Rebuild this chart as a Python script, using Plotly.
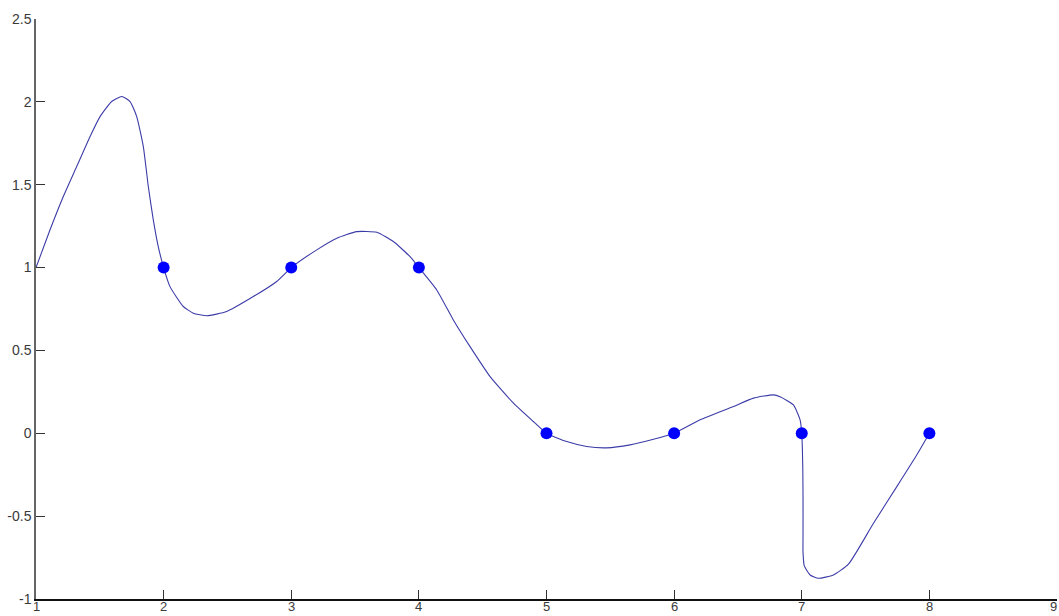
import plotly.graph_objects as go

# Curve points (parametric, x not monotonic near x=7)
curve_x = [1.0, 1.11, 1.214, 1.319, 1.423, 1.502, 1.593, 1.672, 1.737, 1.789, 1.841, 1.88, 1.919, 1.958, 2.0,
           2.05, 2.154, 2.233, 2.338, 2.494, 2.703, 2.886, 3.0,
           3.2, 3.357, 3.513, 3.67, 3.8, 3.931, 4.0,
           4.14, 4.27, 4.401, 4.558, 4.741, 4.897, 5.0,
           5.159, 5.315, 5.472, 5.655, 5.838, 6.0,
           6.204, 6.465, 6.622, 6.779, 6.83, 6.935, 6.987, 7.0,
           7.008, 7.01, 7.01, 7.01, 7.02, 7.066, 7.13, 7.248, 7.366,
           7.562, 7.745, 7.902, 8.0]
curve_y = [1.0, 1.228, 1.429, 1.61, 1.79, 1.911, 2.002, 2.032, 2.002, 1.911, 1.73, 1.489, 1.288, 1.127, 1.0,
           0.885, 0.765, 0.725, 0.709, 0.735, 0.825, 0.916, 1.0,
           1.107, 1.177, 1.217, 1.213, 1.157, 1.066, 1.0,
           0.865, 0.684, 0.523, 0.342, 0.182, 0.071, 0.0,
           -0.05, -0.08, -0.088, -0.07, -0.036, 0.0,
           0.081, 0.161, 0.212, 0.232, 0.22, 0.171, 0.081, 0.0,
           -0.2, -0.4, -0.6, -0.72, -0.8, -0.855, -0.875, -0.855, -0.79,
           -0.543, -0.322, -0.13, 0.0]

# Marked data points
point_x = [2, 3, 4, 5, 6, 7, 8]
point_y = [1, 1, 1, 0, 0, 0, 0]

x_ticks = [1, 2, 3, 4, 5, 6, 7, 8, 9]
y_ticks = [-1, -0.5, 0, 0.5, 1, 1.5, 2, 2.5]
y_tick_text = ["-1", "-0.5", "0", "0.5", "1", "1.5", "2", "2.5"]

FONT = "Arial, Liberation Sans, sans-serif"
TXT = "#3a3a3a"

fig = go.Figure()
fig.add_trace(go.Scatter(x=curve_x, y=curve_y, mode="lines",
                         line=dict(color="#3c3ca8", width=1.1, shape="spline", smoothing=0.5),
                         hoverinfo="skip", showlegend=False))
fig.add_trace(go.Scatter(x=point_x, y=point_y, mode="markers",
                         marker=dict(color="#0000ff", size=12, line=dict(width=0)),
                         showlegend=False))

fig.update_layout(
    width=1059, height=616,
    margin=dict(l=36, r=2, t=19, b=17),
    paper_bgcolor="white", plot_bgcolor="white",
    font=dict(family=FONT, size=14, color=TXT),
)
fig.update_xaxes(range=[1, 9], tickvals=x_ticks, showticklabels=False,
                 showgrid=False, zeroline=False, showline=True, linecolor="#111111", linewidth=1.5,
                 ticks="inside", ticklen=9, tickcolor="#333333", automargin=False)
fig.update_yaxes(range=[-1, 2.5], tickvals=y_ticks, ticktext=y_tick_text,
                 showgrid=False, zeroline=False, showline=True, linecolor="#666666", linewidth=1.5,
                 ticks="inside", ticklen=9, tickcolor="#333333", automargin=False,
                 ticklabelstandoff=0)

# x tick labels placed just under the axis so they fit in the short bottom margin
for v in x_ticks:
    last = v == x_ticks[-1]
    fig.add_annotation(x=v, y=0, xref="x", yref="paper", text=str(v), showarrow=False,
                       xanchor="right" if last else "center", xshift=1 if last else 0,
                       yanchor="top", yshift=1, borderpad=0,
                       font=dict(family=FONT, size=13, color=TXT))

fig.write_html("out.html")
